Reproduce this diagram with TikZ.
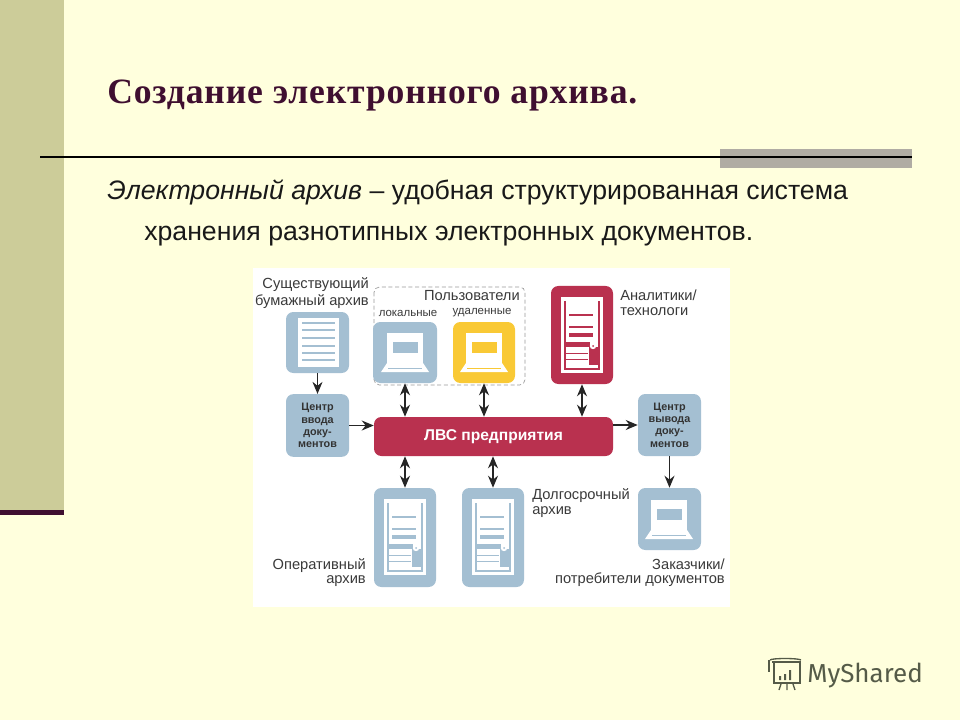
\documentclass[tikz,border=0pt]{standalone}
\usepackage{fontspec}
\setmainfont{Liberation Sans}
\newfontfamily\serifbody{Liberation Serif}
\newfontfamily\logofont{Fira Sans}
\usetikzlibrary{arrows.meta}
\definecolor{slidebg}{HTML}{FFFFDD}
\definecolor{barcol}{HTML}{CCCC99}
\definecolor{darkbar}{HTML}{3F0F30}
\definecolor{greybar}{HTML}{B0ACA3}
\definecolor{steel}{HTML}{A4BFD2}
\definecolor{crimson}{HTML}{B9314F}
\definecolor{sun}{HTML}{F9C935}
\definecolor{lab}{HTML}{3A3A3A}
\definecolor{logocol}{HTML}{555B48}
\newcommand\laptopicon[3]{\begin{scope}[shift={(#1,#2)}]
 \fill[white] (-18,-19) rectangle (18,12);
 \fill[#3] (-12,-10) rectangle (13,1);
 \fill[white] (-18,11) -- (18,11) -- (24,20) -- (-24,20) -- cycle;
 \draw[#3,line width=.5pt] (-17,16) -- (17,16);
\end{scope}}
\newcommand\servericon[3]{\begin{scope}[shift={(#1,#2)}]
 \fill[white] (-21,-38) rectangle (21,38);
 \draw[#3,line width=.8pt] (-17,-34) -- (-17,34) -- (17,34) -- (17,-34);
 \fill[#3] (-13,-21) rectangle (11,-19);
 \fill[#3] (-13,-9) rectangle (11,-7);
 \fill[#3] (-13,-2) rectangle (11,2);
 \fill[#3] (-17,7) rectangle (8,12);
 \fill[#3] (7,12) rectangle (16,30);
 \draw[#3,line width=.4pt] (-16,18) -- (6,18) (-16,24) -- (6,24);
 \fill[white] (11,11) circle (3.2);
 \fill[#3] (11,11) circle (1);
\end{scope}}
\tikzset{
 x=.75pt,y=-.75pt,
 tile/.style={fill=#1,rounded corners=5.5pt,inner sep=0,draw=none},
 lbl/.style={inner sep=0,text=lab,font=\fontsize{11pt}{13pt}\selectfont},
 small/.style={inner sep=0,text=lab,font=\fontsize{8.6pt}{10pt}\selectfont},
 centre/.style={inner sep=0,text=black!80,align=center,font=\fontsize{8.1pt}{9.2pt}\selectfont\bfseries},
 bus/.style={{Stealth[length=9pt,width=7.5pt]}-{Stealth[length=9pt,width=7.5pt]},line width=1pt,black!85},
 flow/.style={-{Stealth[length=9pt,width=7.5pt]},line width=1pt,black!85},
}
\begin{document}
\begin{tikzpicture}
\useasboundingbox (0,0) rectangle (960,720);
\fill[slidebg] (0,0) rectangle (960,720);
\fill[barcol] (0,0) rectangle (64,510);
\fill[darkbar] (0,510) rectangle (64,514.5);
\fill[greybar] (720,149) rectangle (912,168);
\coordinate (ruleL) at (40,157);
\coordinate (ruleR) at (912,157);
\draw[black,line width=1.3pt] (ruleL) -- (ruleR);

\node[anchor=base west,inner sep=0,text=darkbar] (title) at (107,104)
 {\serifbody\bfseries\fontsize{26.7pt}{30pt}\selectfont\addfontfeature{LetterSpace=2.4}Создание электронного архива.};
\node[anchor=base west,inner sep=0,text=black!90] (body1) at (107,200)
 {\fontsize{20pt}{24pt}\selectfont\itshape Электронный архив\upshape{} – удобная структурированная система};
\node[anchor=base west,inner sep=0,text=black!90] (body2) at (144,241)
 {\fontsize{20pt}{24pt}\selectfont хранения разнотипных электронных документов.};

\fill[white] (253,268) rectangle (730,607);

\draw[black!40,densely dashed,line width=.5pt,rounded corners=4pt] (374,287) rectangle (525,385);

\node[tile=steel,minimum width=47.25pt,minimum height=45.75pt] (paper) at (317.5,342.5) {};
\node[tile=steel,minimum width=47.25pt,minimum height=47pt] (inC) at (317.5,425.5) {};
\node[tile=steel,minimum width=48pt,minimum height=45.75pt] (local) at (405,352.5) {};
\node[tile=sun,minimum width=46.5pt,minimum height=45.75pt] (remote) at (484,352.5) {};
\node[tile=crimson,minimum width=46.5pt,minimum height=73.5pt] (analyst) at (582,335) {};
\node[tile=crimson,minimum width=179.25pt,minimum height=29.25pt] (lan) at (493.5,436.5) {};
\node[tile=steel,minimum width=47.25pt,minimum height=46.5pt] (outC) at (669.5,425) {};
\node[tile=steel,minimum width=46.5pt,minimum height=74.25pt] (oper) at (405,537.5) {};
\node[tile=steel,minimum width=46.5pt,minimum height=74.25pt] (long) at (493,537.5) {};
\node[tile=steel,minimum width=47.25pt,minimum height=46.5pt] (client) at (669.5,519) {};

\fill[white] (298,318) rectangle (339,367);
\foreach \yy in {323,330,338,346,353,360} \fill[steel] (302,\yy-1) rectangle (335,\yy+1);
\laptopicon{405}{352}{steel}
\laptopicon{484}{352}{sun}
\laptopicon{669}{519}{steel}
\servericon{582}{335}{crimson}
\servericon{405}{537}{steel}
\servericon{493}{537}{steel}

\node[centre] at (inC) {Центр\\ввода\\доку-\\ментов};
\node[centre] at (outC) {Центр\\вывода\\доку-\\ментов};
\node[inner sep=0,text=white,font=\fontsize{11.7pt}{13pt}\selectfont\bfseries] at (493.5,437) {ЛВС предприятия};

\node[lbl,anchor=east] (t1) at (369,285) {Существующий};
\node[lbl,anchor=east] (t2) at (369,302) {бумажный архив};
\node[lbl,anchor=east] (t3) at (520,296) {Пользователи};
\node[small] (t4) at (408,313) {локальные};
\node[small] (t5) at (482,313) {удаленные};
\node[lbl,anchor=west] (t6) at (620,295) {Аналитики/};
\node[lbl,anchor=west] (t7) at (620,312) {технологи};
\node[lbl,anchor=east] (t8) at (366,566) {Оперативный};
\node[lbl,anchor=east] (t9) at (366,581) {архив};
\node[lbl,anchor=west] (t10) at (532,496) {Долгосрочный};
\node[lbl,anchor=west] (t11) at (532,512) {архив};
\node[lbl,anchor=east] (t12) at (725,564) {Заказчики/};
\node[lbl,anchor=east] (t13) at (725,580) {потребители документов};

\draw[flow] (paper) -- (inC);
\draw[flow] (inC.east) -- (lan.west |- inC.east);
\draw[flow] (lan.east |- outC.east) -- (outC.west);
\draw[flow] (outC) -- (client);
\draw[bus] (local.south) -- (local.south |- lan.north);
\draw[bus] (remote.south) -- (remote.south |- lan.north);
\draw[bus] (analyst.south) -- (analyst.south |- lan.north);
\draw[bus] (oper.north |- lan.south) -- (oper.north);
\draw[bus] (long.north |- lan.south) -- (long.north);

% logo
\node[anchor=base west,inner sep=0,text=logocol,font=\logofont\fontsize{19.5pt}{24pt}\selectfont] (logo) at (807,682) {MyShared};
\begin{scope}[logocol,line width=1pt]
 \draw (772,662) -- (800,662) -- (800,683) -- (774,683) -- (774,662);
 \draw (770,660) .. controls (772,658) and (798,658) .. (801,660);
 \draw (769,660) -- (769,672);
 \fill (779,676) rectangle (781,680) (784,674) rectangle (786,680) (789,670) rectangle (791,680);
 \draw (781,684) -- (779,690) (787,684) -- (787,690) (793,684) -- (795,690);
\end{scope}
\end{tikzpicture}
\end{document}
